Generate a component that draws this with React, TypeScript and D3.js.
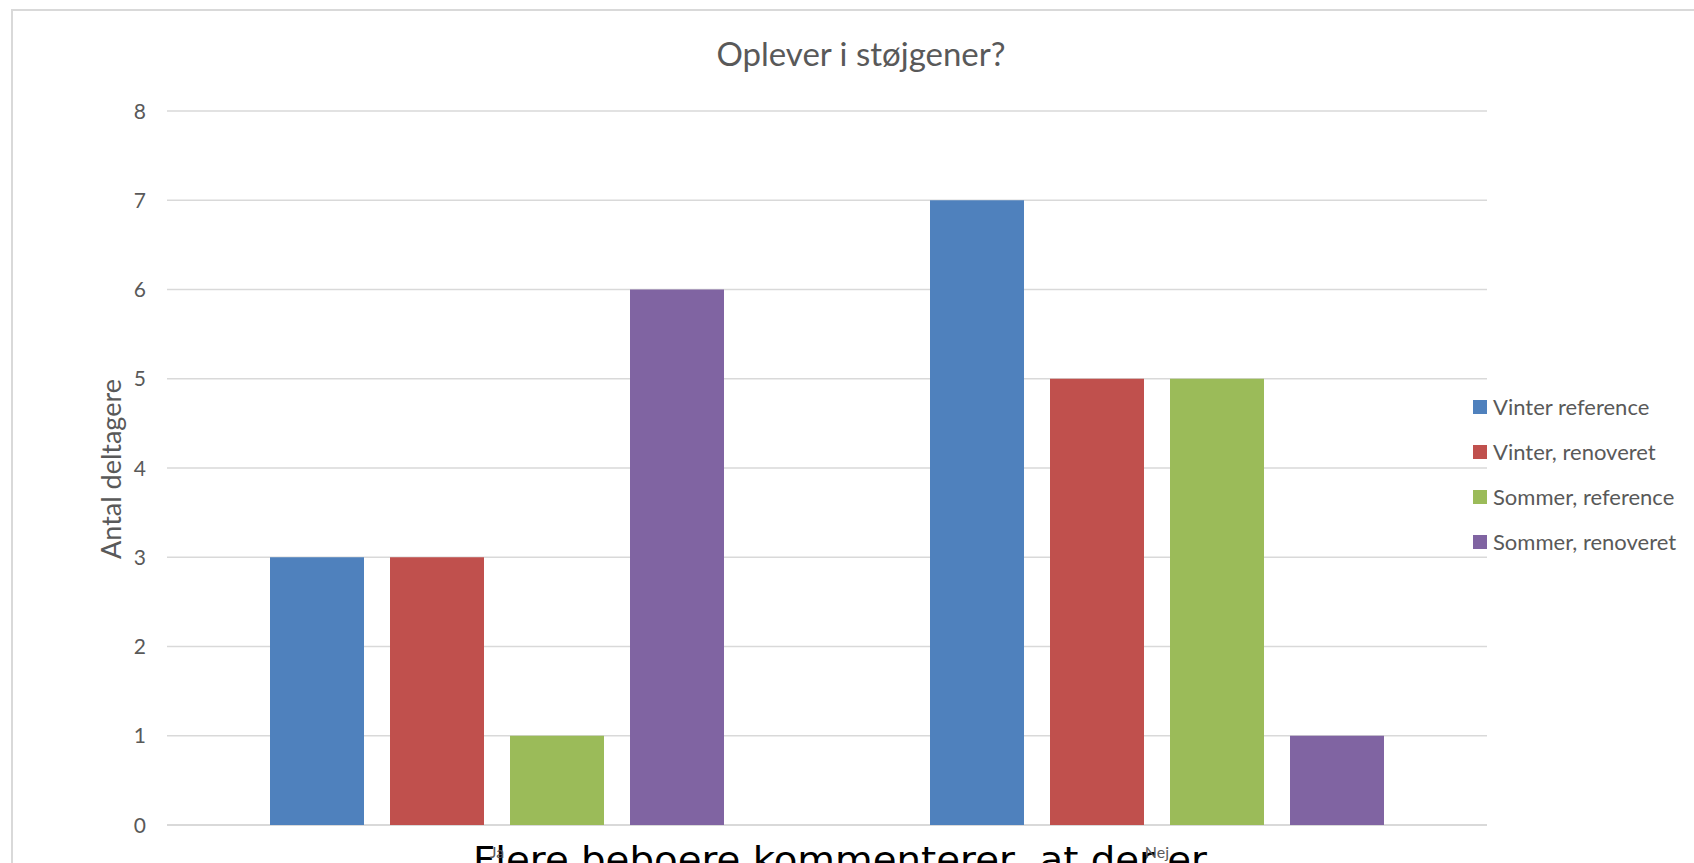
import React from "react";
import * as d3 from "d3";

const categories = ["Ja", "Nej"];
const seriesNames = ["Vinter reference", "Vinter, renoveret", "Sommer, reference", "Sommer, renoveret"];
const vinterReference = [3, 7];
const vinterRenoveret = [3, 5];
const sommerReference = [1, 5];
const sommerRenoveret = [6, 1];
const seriesValues = [vinterReference, vinterRenoveret, sommerReference, sommerRenoveret];
const colors = ["#4F81BD", "#C0504D", "#9BBB59", "#8064A2"];
const yTicks = [0, 1, 2, 3, 4, 5, 6, 7, 8];
const title = "Oplever i støjgener?";
const yTitle = "Antal deltagere";
const overlayText = "Flere beboere kommenterer, at der er";

const W = 1694;
const H = 863;
const FONT = "Lato, 'Open Sans', sans-serif";

export default function App() {
  const left = 167, right = 1487, top = 111, bottom = 825;
  const x0 = d3.scaleBand<string>().domain(categories).range([left, right]).paddingInner(0).paddingOuter(0);
  const groupPad = 103;
  const x1 = d3.scaleBand<string>().domain(seriesNames).range([groupPad, x0.bandwidth() - groupPad]).paddingInner(26 / 120).paddingOuter(0);
  const y = d3.scaleLinear().domain([0, 8]).range([bottom, top]);

  return (
    <svg width={W} height={H} style={{ position: "absolute", left: 0, top: 0, overflow: "hidden", background: "#fff" }}>
      <rect x={12} y={10} width={W} height={H} fill="#fff" stroke="#d9d9d9" strokeWidth={2} />
      <text x={861} y={66} textAnchor="middle" fontFamily={FONT} fontSize={33} fill="#595959">{title}</text>
      {yTicks.map((t) => (
        <g key={t}>
          <line x1={left} x2={right} y1={y(t)} y2={y(t)} stroke="#d9d9d9" strokeWidth={t === 0 ? 2 : 1.3} />
          <text x={146} y={y(t) + 7.5} textAnchor="end" fontFamily={FONT} fontSize={21} fill="#595959">{t}</text>
        </g>
      ))}
      <text transform={`translate(121,469) rotate(-90)`} textAnchor="middle" fontFamily={FONT} fontSize={27} fill="#595959">{yTitle}</text>
      {categories.map((c, ci) => (
        <g key={c} transform={`translate(${x0(c)},0)`}>
          {seriesNames.map((s, si) => (
            <rect key={s} x={x1(s)} y={y(seriesValues[si][ci])} width={x1.bandwidth()} height={y(0) - y(seriesValues[si][ci])} fill={colors[si]} />
          ))}
        </g>
      ))}
      <text x={473} y={872} fontFamily="'DejaVu Sans', sans-serif" fontSize={36} fill="#000" textLength={734} lengthAdjust="spacingAndGlyphs">{overlayText}</text>
      {categories.map((c) => (
        <text key={c} x={(x0(c) as number) + x0.bandwidth() / 2} y={858} textAnchor="middle" fontFamily={FONT} fontSize={16} fill="#595959">{c}</text>
      ))}
      {seriesNames.map((s, i) => (
        <g key={s} transform={`translate(1473,${407 + i * 45})`}>
          <rect x={0} y={-7} width={14} height={14} fill={colors[i]} />
          <text x={20} y={8} fontFamily={FONT} fontSize={22} fill="#595959">{s}</text>
        </g>
      ))}
    </svg>
  );
}
